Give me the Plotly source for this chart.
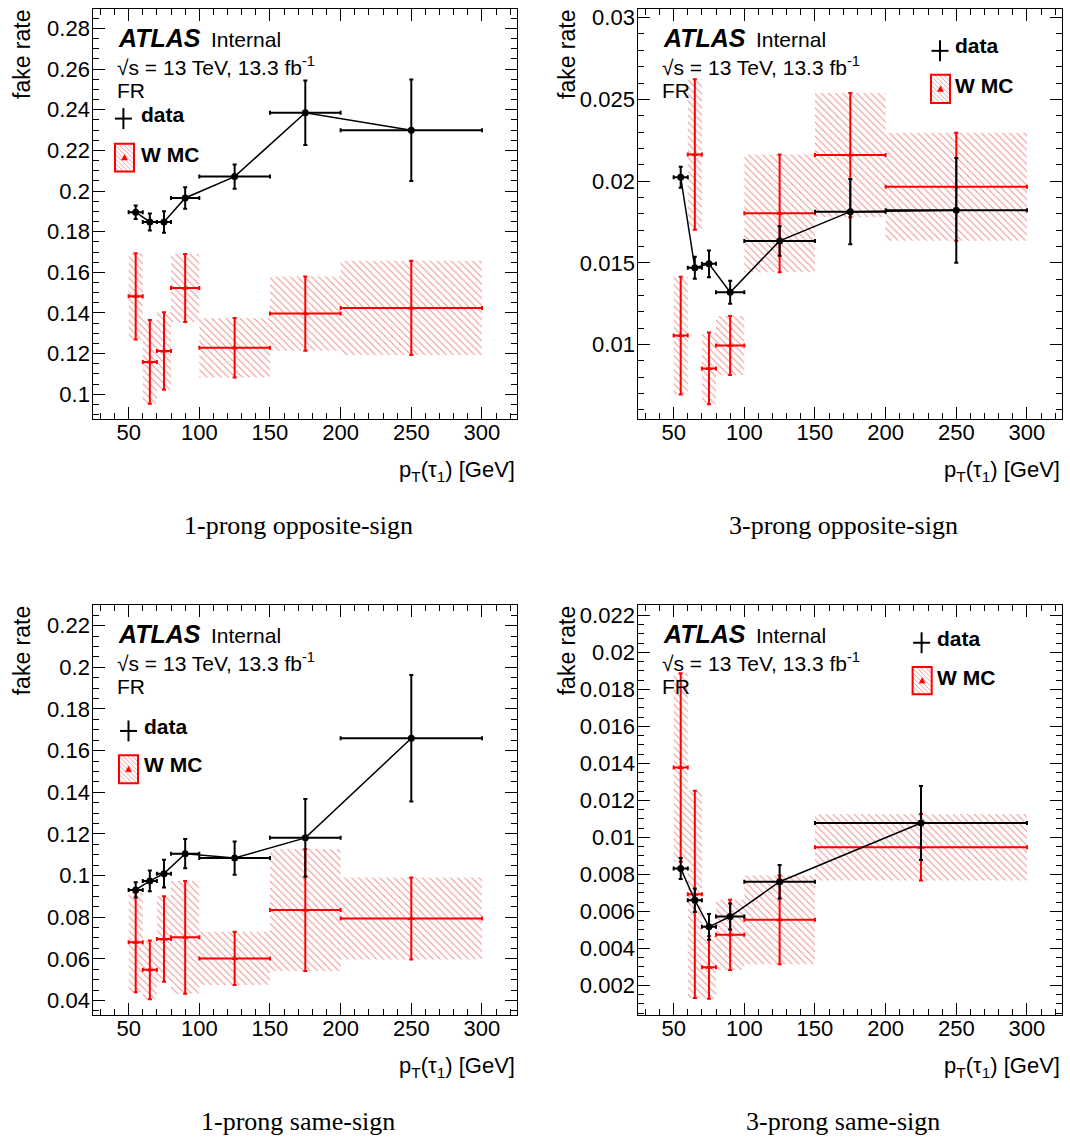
import plotly.graph_objects as go

W, H = 1070, 1142

# pT(tau1) bin edges [GeV]
edges_fine = [50, 60, 70, 80, 100, 150, 200, 300]
edges_3ss = [50, 60, 70, 80, 100, 150, 300]

# 1-prong opposite-sign
os1_data = [0.1896, 0.1848, 0.1848, 0.1966, 0.2071, 0.2385, 0.2299]
os1_data_err = [0.0033, 0.0042, 0.0053, 0.0053, 0.0060, 0.0159, 0.0250]
os1_wmc = [0.1482, 0.1159, 0.1213, 0.1523, 0.1229, 0.1397, 0.1425]
os1_wmc_err = [0.0212, 0.0206, 0.0191, 0.0167, 0.0146, 0.0183, 0.0232]

# 3-prong opposite-sign
os3_data = [0.02023, 0.01470, 0.01494, 0.01320, 0.01634, 0.01813, 0.01821]
os3_data_err = [0.00064, 0.00067, 0.00082, 0.00070, 0.00090, 0.00200, 0.00320]
os3_wmc = [0.01055, 0.02163, 0.00854, 0.00994, 0.01803, 0.02159, 0.01965]
os3_wmc_err = [0.0036, 0.0046, 0.0022, 0.0018, 0.0036, 0.0038, 0.0033]

# 1-prong same-sign
ss1_data = [0.0931, 0.0974, 0.1009, 0.1105, 0.1084, 0.1181, 0.1659]
ss1_data_err = [0.0037, 0.0050, 0.0067, 0.0070, 0.0080, 0.0187, 0.0304]
ss1_wmc = [0.0679, 0.0547, 0.0695, 0.0703, 0.0602, 0.0834, 0.0794]
ss1_wmc_err = [0.0240, 0.0141, 0.0205, 0.0271, 0.0128, 0.0293, 0.0197]

# 3-prong same-sign
ss3_data = [0.00832, 0.00660, 0.00516, 0.00572, 0.00760, 0.01078]
ss3_data_err = [0.00057, 0.00063, 0.00070, 0.00070, 0.00090, 0.00200]
ss3_wmc = [0.01378, 0.00692, 0.00297, 0.00473, 0.00554, 0.00947]
ss3_wmc_err = [0.0051, 0.0056, 0.0017, 0.0019, 0.0024, 0.0018]

captions = ["1-prong opposite-sign", "3-prong opposite-sign",
            "1-prong same-sign", "3-prong same-sign"]

SANS = "Liberation Sans"
SERIF = "Liberation Serif"
RED = "#ff0000"
HATCH = "rgba(235,90,90,0.7)"

panels = [
    dict(edges=edges_fine, data=os1_data, derr=os1_data_err, mc=os1_wmc, mcerr=os1_wmc_err,
         frame=(93.3, 517.3, 5.0, 416.7), yr=[0.0877, 0.2896], dt=0.02, mdt=0.005,
         leg=dict(cross=(123.4, 115), dtext=(138.6, 123.4),
                  box=(115, 140.3, 134, 168), mtext=(138.6, 163))),
    dict(edges=edges_fine, data=os3_data, derr=os3_data_err, mc=os3_wmc, mcerr=os3_wmc_err,
         frame=(638.3, 1062.3, 5.0, 416.7), yr=[0.00543, 0.03053], dt=0.005, mdt=0.001,
         leg=dict(cross=(940, 47), dtext=(953.4, 54),
                  box=(931, 71, 950, 99.4), mtext=(953.4, 93.7))),
    dict(edges=edges_fine, data=ss1_data, derr=ss1_data_err, mc=ss1_wmc, mcerr=ss1_wmc_err,
         frame=(93.3, 517.3, 603.4, 1015.0), yr=[0.0328, 0.2298], dt=0.02, mdt=0.005,
         leg=dict(cross=(128.5, 729.5), dtext=(142, 737),
                  box=(119, 753.8, 138, 781.9), mtext=(142, 775.8))),
    dict(edges=edges_3ss, data=ss3_data, derr=ss3_data_err, mc=ss3_wmc, mcerr=ss3_wmc_err,
         frame=(638.3, 1062.3, 603.4, 1015.0), yr=[0.00037, 0.02255], dt=0.002, mdt=0.0005,
         leg=dict(cross=(921.6, 641), dtext=(935, 648.5),
                  box=(912.6, 665.3, 931.7, 692.7), mtext=(935, 687.7))),
]


def px(x):
    return x / W


def py(y):
    return 1 - y / H


fig = go.Figure()
annotations = []
shapes = []


def text_at(x, baseline, txt, size, anchor="left", family=SANS):
    # place a text line by its approximate baseline (pixel coordinates)
    annotations.append(dict(
        x=px(x), y=py(baseline - 0.34 * size - 5), xref="paper", yref="paper",
        text=txt, showarrow=False, xanchor=anchor, yanchor="middle",
        font=dict(family=family, size=size, color="black")))


def hatch_path(x0, y0, x1, y1, step):
    parts = []
    c = y0 - x1 + step / 2
    while c < y1 - x0:
        xa = max(x0, y0 - c)
        xb = min(x1, y1 - c)
        if xb > xa:
            parts.append(f"M{px(xa)},{py(xa + c)} L{px(xb)},{py(xb + c)}")
        c += step
    return " ".join(parts)


for i, p in enumerate(panels, start=1):
    xs = "" if i == 1 else str(i)
    edges = p["edges"]
    centers = [(a + b) / 2 for a, b in zip(edges[:-1], edges[1:])]
    widths = [b - a for a, b in zip(edges[:-1], edges[1:])]
    halfw = [w / 2 for w in widths]

    # W MC uncertainty band (hatched)
    fig.add_trace(go.Bar(
        x=centers, y=[2 * e for e in p["mcerr"]],
        base=[v - e for v, e in zip(p["mc"], p["mcerr"])],
        width=widths, xaxis="x" + xs, yaxis="y" + xs,
        marker=dict(color="rgba(0,0,0,0)", line=dict(width=0),
                    pattern=dict(shape="\\", fgcolor=HATCH, bgcolor="rgba(0,0,0,0)",
                                 size=5, solidity=0.2, fillmode="replace")),
        hoverinfo="skip"))

    # W MC points
    fig.add_trace(go.Scatter(
        x=centers, y=p["mc"], mode="markers", xaxis="x" + xs, yaxis="y" + xs,
        marker=dict(symbol="triangle-up", size=6, color=RED),
        error_y=dict(type="data", array=p["mcerr"], color=RED, thickness=2, width=2),
        error_x=dict(type="data", array=halfw, color=RED, thickness=2, width=2)))

    # data points joined by a line
    fig.add_trace(go.Scatter(
        x=centers, y=p["data"], mode="lines+markers", xaxis="x" + xs, yaxis="y" + xs,
        line=dict(color="black", width=1.5),
        marker=dict(symbol="circle", size=7, color="black"),
        error_y=dict(type="data", array=p["derr"], color="black", thickness=2, width=2),
        error_x=dict(type="data", array=halfw, color="black", thickness=2, width=2)))

    x0, x1, y0, y1 = p["frame"]
    common = dict(ticks="inside", ticklen=12, tickwidth=1, tickcolor="black",
                  showline=True, linecolor="black", linewidth=1, mirror="allticks",
                  showgrid=False, zeroline=False,
                  tickfont=dict(family=SANS, size=22, color="black"))
    fig.update_layout(**{
        "xaxis" + xs: dict(domain=[px(x0), px(x1)], range=[25, 325], anchor="y" + xs,
                           tick0=0, dtick=50, ticklabelstandoff=-7,
                           minor=dict(dtick=10, ticks="inside", ticklen=6,
                                      tickcolor="black", tickwidth=1, showgrid=False),
                           **common),
        "yaxis" + xs: dict(domain=[py(y1), py(y0)], range=p["yr"], anchor="x" + xs,
                           tick0=0, dtick=p["dt"], ticklabelstandoff=-2,
                           minor=dict(dtick=p["mdt"], ticks="inside", ticklen=6,
                                      tickcolor="black", tickwidth=1, showgrid=False),
                           **common),
    })

    dx = x0 - 93.3
    dy = y0 - 5.0
    # ATLAS label block
    text_at(116 + dx, 47.3 + dy, "<b><i>ATLAS</i></b>", 25)
    text_at(209 + dx, 47.3 + dy, "Internal", 21)
    text_at(115 + dx, 74.4 + dy, "√s = 13 TeV, 13.3 fb<sup>-1</sup>", 21)
    text_at(115 + dx, 98.7 + dy, "FR", 21)

    # axis titles
    text_at(x1, 481 + dy, "p<sub>T</sub>(τ<sub>1</sub>) [GeV]", 22, anchor="right")
    annotations.append(dict(
        x=px(22 + dx), y=py(3 + dy), xref="paper", yref="paper", text="fake rate",
        showarrow=False, textangle=-90, xanchor="center", yanchor="top",
        font=dict(family=SANS, size=23, color="black")))

    # caption under each panel
    cx = 298.4 if x0 < 500 else 843
    text_at(cx, 537 + dy, captions[i - 1], 26, anchor="center", family=SERIF)

    # legend
    lg = p["leg"]
    cxl, cyl = lg["cross"]
    shapes.append(dict(type="line", xref="paper", yref="paper",
                       x0=px(cxl - 8.5), x1=px(cxl + 8.5), y0=py(cyl), y1=py(cyl),
                       line=dict(color="black", width=2)))
    shapes.append(dict(type="line", xref="paper", yref="paper",
                       x0=px(cxl), x1=px(cxl), y0=py(cyl - 10.5), y1=py(cyl + 10.5),
                       line=dict(color="black", width=2)))
    text_at(lg["dtext"][0], lg["dtext"][1], "<b>data</b>", 21)

    bx0, by0, bx1, by1 = lg["box"]
    shapes.append(dict(type="path", xref="paper", yref="paper",
                       path=hatch_path(bx0, by0, bx1, by1, 4.5),
                       line=dict(color=HATCH, width=0.8)))
    shapes.append(dict(type="rect", xref="paper", yref="paper",
                       x0=px(bx0), x1=px(bx1), y0=py(by1), y1=py(by0),
                       line=dict(color=RED, width=2)))
    tcx, tcy = (bx0 + bx1) / 2, (by0 + by1) / 2
    shapes.append(dict(type="path", xref="paper", yref="paper",
                       path=(f"M{px(tcx)},{py(tcy - 3)} L{px(tcx - 3)},{py(tcy + 2.5)} "
                             f"L{px(tcx + 3)},{py(tcy + 2.5)} Z"),
                       fillcolor=RED, line=dict(color=RED, width=0.5)))
    text_at(lg["mtext"][0], lg["mtext"][1], "<b>W MC</b>", 21)

fig.update_layout(
    width=W, height=H, margin=dict(l=0, r=0, t=0, b=0),
    paper_bgcolor="white", plot_bgcolor="white",
    showlegend=False, barmode="overlay",
    annotations=annotations, shapes=shapes,
)

fig.write_html("out.html")
